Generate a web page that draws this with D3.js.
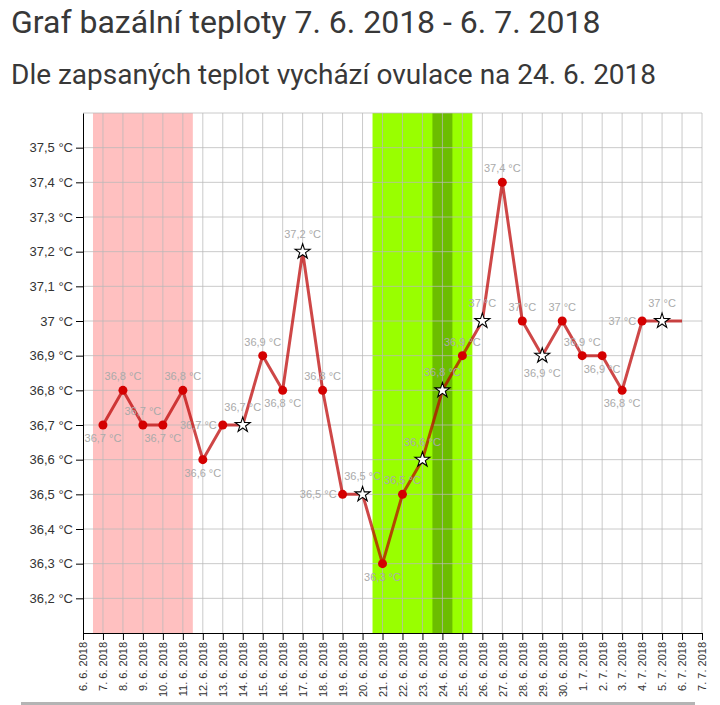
<!DOCTYPE html>
<html>
<head>
<meta charset="utf-8">
<script src="https://cdn.jsdelivr.net/npm/d3@7"></script>
<style>
  body { margin: 0; background: #fff; }
  .title { font-family: Roboto, "Noto Sans", sans-serif; fill: #383838; }
  .axis text { font-family: "Liberation Sans", Arial, sans-serif; fill: #333; }
  .axis path, .axis line { stroke: #000; }
  .plabel { font-family: "Liberation Sans", Arial, sans-serif; font-size: 11px; fill: #aaa; }
</style>
</head>
<body>
<script>

// measured days and basal temperature
var days = ["2018-06-07","2018-06-08","2018-06-09","2018-06-10","2018-06-11","2018-06-12",
            "2018-06-13","2018-06-14","2018-06-15","2018-06-16","2018-06-17","2018-06-18",
            "2018-06-19","2018-06-20","2018-06-21","2018-06-22","2018-06-23","2018-06-24",
            "2018-06-25","2018-06-26","2018-06-27","2018-06-28","2018-06-29","2018-06-30",
            "2018-07-01","2018-07-02","2018-07-03","2018-07-04","2018-07-05","2018-07-06"];
var temps = [36.7,36.8,36.7,36.7,36.8,36.6,36.7,36.7,36.9,36.8,37.2,36.8,36.5,36.5,36.3,
             36.5,36.6,36.8,36.9,37.0,37.4,37.0,36.9,37.0,36.9,36.9,36.8,37.0,37.0,37.0];
// point type: d = dot, s = star, n = none
var marks = ["d","d","d","d","d","d","d","s","d","d","s","d","d","s","d",
             "d","s","s","d","s","d","d","s","d","d","d","d","d","s","n"];
// where the value label sits: t = top, b = bottom, l = left, n = none
var labelPos = ["b","t","t","b","t","b","l","t","t","b","t","t","l","t","b",
                "t","t","t","t","t","t","t","b","t","t","b","b","l","t","n"];

var menstruation = ["2018-06-07","2018-06-11"];
var fertile = ["2018-06-21","2018-06-25"];
var ovulation = "2018-06-24";

var axisStart = "2018-06-06", axisEnd = "2018-07-07";
var yTicks = [36.2,36.3,36.4,36.5,36.6,36.7,36.8,36.9,37.0,37.1,37.2,37.3,37.4,37.5];
var yGrid = yTicks.concat([37.6]);

var title = "Graf bazální teploty 7. 6. 2018 - 6. 7. 2018";
var subtitle = "Dle zapsaných teplot vychází ovulace na 24. 6. 2018";

var dim = { width: 720, height: 705, margin: { top: 113, left: 83, right: 18, bottom: 72 } };
dim.plot = {
    width: dim.width - dim.margin.left - dim.margin.right,
    height: dim.height - dim.margin.top - dim.margin.bottom
};

var parse = d3.utcParse("%Y-%m-%d");
var data = days.map(function(d, i) {
    return { date: parse(d), temp: temps[i], mark: marks[i], pos: labelPos[i] };
});

var x = d3.scaleUtc().domain([parse(axisStart), parse(axisEnd)]).range([0, dim.plot.width]);
var y = d3.scaleLinear().domain([36.1, 37.6]).range([dim.plot.height, 0]);
var halfDay = 12 * 3600 * 1000;

var svg = d3.select("body").append("svg")
        .attr("width", dim.width)
        .attr("height", dim.height);

svg.append("text").attr("class", "title")
        .attr("x", 11).attr("y", 33)
        .style("font-size", "32px")
        .text(title);
svg.append("text").attr("class", "title")
        .attr("x", 11).attr("y", 84)
        .style("font-size", "28px")
        .text(subtitle);

// scrollbar remains at the bottom of the screenshot
svg.append("rect")
        .attr("x", 21).attr("y", 702)
        .attr("width", 674).attr("height", 3)
        .attr("fill", "#b4b4b4");

var g = svg.append("g")
        .attr("transform", "translate(" + dim.margin.left + "," + dim.margin.top + ")");

function band(from, to, color) {
    g.append("rect")
        .attr("x", x(new Date(parse(from) - halfDay)))
        .attr("y", 0)
        .attr("width", x(new Date(+parse(to) + halfDay)) - x(new Date(parse(from) - halfDay)))
        .attr("height", dim.plot.height)
        .attr("fill", color);
}
band(menstruation[0], menstruation[1], "#ffc0c0");
band(fertile[0], fertile[1], "#99ff00");
band(ovulation, ovulation, "#6cbd00");

var dayTicks = d3.utcDay.range(parse(axisStart), new Date(+parse(axisEnd) + 1));

// grid
g.append("g").selectAll("line").data(dayTicks.slice(1)).enter()
    .append("line")
        .attr("x1", function(d) { return x(d); })
        .attr("x2", function(d) { return x(d); })
        .attr("y1", 0).attr("y2", dim.plot.height)
        .attr("stroke", "#b8b8b8").attr("stroke-opacity", 0.75);
g.append("g").selectAll("line").data(yGrid).enter()
    .append("line")
        .attr("x1", 0).attr("x2", dim.plot.width)
        .attr("y1", function(d) { return y(d); })
        .attr("y2", function(d) { return y(d); })
        .attr("stroke", "#b8b8b8").attr("stroke-opacity", 0.75);

// axes
var fmtDay = d3.utcFormat("%-d. %-m. %Y");
var xAxis = d3.axisBottom(x).tickValues(dayTicks).tickFormat(fmtDay).tickSize(7).tickSizeOuter(0);
var yAxis = d3.axisLeft(y).tickValues(yTicks).tickSize(7).tickSizeOuter(0)
        .tickFormat(function(d) { return d3.format(".2~f")(d).replace(".", ",") + " °C"; });

var gx = g.append("g").attr("class", "axis")
        .attr("transform", "translate(0," + dim.plot.height + ")")
        .call(xAxis);
gx.selectAll("text")
        .style("font-size", "11px")
        .attr("transform", "rotate(-90)")
        .attr("text-anchor", "end")
        .attr("x", -9).attr("y", 0).attr("dy", "0.35em");

var gy = g.append("g").attr("class", "axis").call(yAxis);
gy.selectAll("text").style("font-size", "13px").attr("x", -10);

// series
var line = d3.line()
        .x(function(d) { return x(d.date); })
        .y(function(d) { return y(d.temp); });

g.append("path").datum(data)
        .attr("d", line)
        .attr("fill", "none")
        .attr("stroke", "#bb0000")
        .attr("stroke-opacity", 0.72)
        .attr("stroke-width", 3)
        .attr("stroke-linejoin", "round");

g.append("g").selectAll("circle").data(data.filter(function(d) { return d.mark === "d"; })).enter()
    .append("circle")
        .attr("cx", function(d) { return x(d.date); })
        .attr("cy", function(d) { return y(d.temp); })
        .attr("r", 4.5)
        .attr("fill", "#d40000");

g.append("g").selectAll("path").data(data.filter(function(d) { return d.mark === "s"; })).enter()
    .append("path")
        .attr("d", d3.symbol(d3.symbolStar).size(70))
        .attr("transform", function(d) { return "translate(" + x(d.date) + "," + y(d.temp) + ")"; })
        .attr("fill", "#fff")
        .attr("stroke", "#000")
        .attr("stroke-width", 1.1);

// value labels
var fmtTemp = function(v) { return d3.format(".2~f")(v).replace(".", ",") + " °C"; };
g.append("g").selectAll("text").data(data.filter(function(d) { return d.pos !== "n"; })).enter()
    .append("text")
        .attr("class", "plabel")
        .attr("x", function(d) { return d.pos === "l" ? x(d.date) - 6 : x(d.date); })
        .attr("y", function(d) {
            var py = y(d.temp), star = d.mark === "s";
            if (d.pos === "t") return py - (star ? 14 : 10);
            if (d.pos === "b") return py + (star ? 21 : 17);
            return py + 4;
        })
        .attr("text-anchor", function(d) { return d.pos === "l" ? "end" : "middle"; })
        .text(function(d) { return fmtTemp(d.temp); });

</script>
</body>
</html>
